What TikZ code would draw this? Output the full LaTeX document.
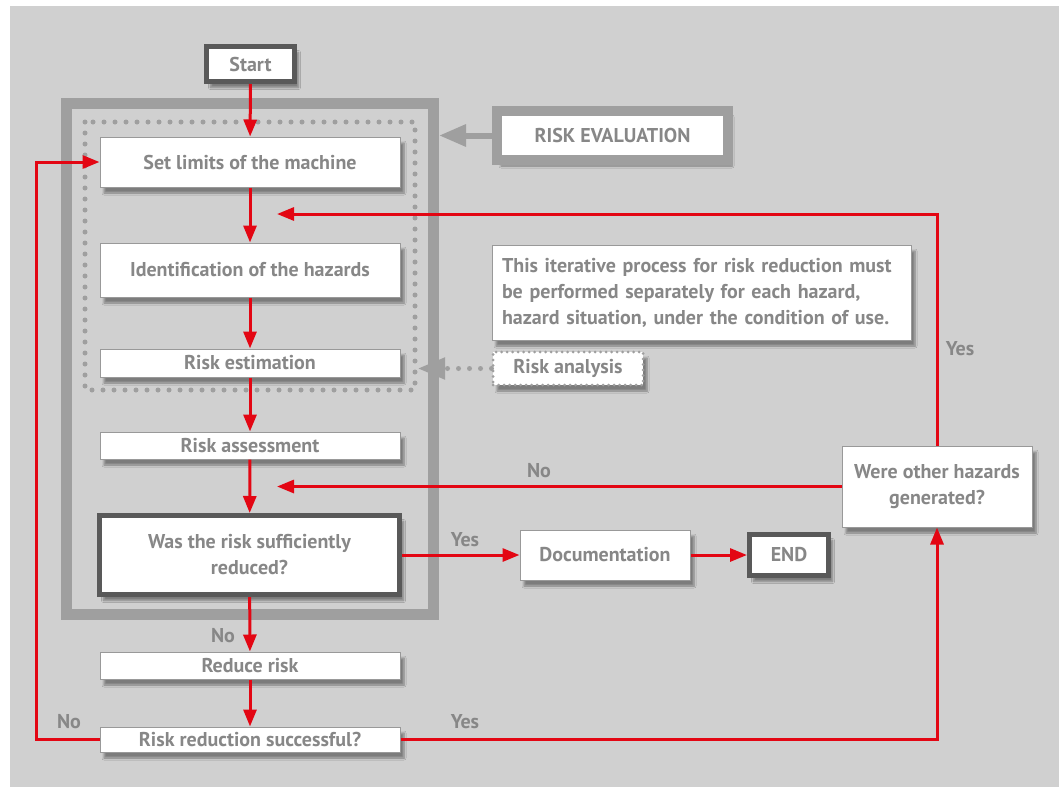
\documentclass[tikz,border=0pt]{standalone}
\usepackage{fontspec}
\setmainfont{PT Sans}
\usetikzlibrary{arrows.meta,shadows.blur}
\definecolor{bggray}{HTML}{D0D0D0}
\definecolor{framegray}{HTML}{9F9F9F}
\definecolor{darkframe}{HTML}{595959}
\definecolor{txtgray}{HTML}{878787}
\definecolor{flowred}{HTML}{E30613}
\tikzset{
	txt/.style={font=\fontsize{20}{26}\selectfont\bfseries, text=txtgray},
	shade box/.style={blur shadow={shadow xshift=4pt, shadow yshift=-6pt, shadow opacity=40, shadow blur steps=6}},
	box/.style={txt, shade box, draw=black!40, line width=1pt, fill=white, inner sep=0pt, align=center},
	darkbox/.style={box, draw=darkframe, line width=5pt},
	flow/.style={draw=flowred, line width=3pt, -{Triangle[length=17pt, width=13pt]}},
	lbl/.style={txt, inner sep=0pt},
	dotframe/.style={draw=framegray, line width=5pt, line cap=round, dash pattern=on 0pt off 11pt}
}

\begin{document}
\begin{tikzpicture}[x=1pt, y=-1pt]
			%%%%% START %%%%%
			\useasboundingbox (0,0) rectangle (1059,787);
			\fill[bggray] (10,6) rectangle (1059,787);
			
			\draw[framegray, line width=11pt] (66,103) rectangle (433,614);
			\draw[dotframe] (85,122) rectangle (415,390);
			
			\node[darkbox, minimum width=88, minimum height=35] (start) at (250.5,64) {Start};
			\node[box, minimum width=300, minimum height=50] (limits) at (250,162) {Set limits of the machine};
			\node[box, minimum width=300, minimum height=54] (hazards) at (250,270) {Identification of the hazards};
			\node[box, minimum width=300, minimum height=28] (estimate) at (250,363) {Risk estimation};
			\node[box, minimum width=300, minimum height=27] (assess) at (250,445.5) {Risk assessment};
			\node[darkbox, minimum width=300, minimum height=79] (decide) at (249.5,555) {Was the risk sufficiently\\reduced?};
			\node[box, minimum width=300, minimum height=27] (reduce) at (250,665.5) {Reduce risk};
			\node[box, minimum width=300, minimum height=25] (success) at (250,739.5) {Risk reduction successful?};
			
			\node[box, draw=framegray, line width=10pt, minimum width=231, minimum height=49] (riskeval) at (612.5,135.5) {RISK EVALUATION};
			\node[box, minimum width=419, minimum height=95, text width=399, align=left] (note) at (701.5,292.5) {This iterative process for risk reduction must\\be performed separately for each hazard,\\hazard situation, under the condition of use.};
			\node[box, draw=framegray, line width=3pt, line cap=round, dash pattern=on 0pt off 5.5pt, minimum width=150, minimum height=33] (analysis) at (568,368.5) {Risk analysis};
			
			\node[box, minimum width=170, minimum height=50] (docu) at (605,555) {Documentation};
			\node[darkbox, minimum width=79, minimum height=41] (end) at (789,555) {END};
			\node[box, minimum width=190, minimum height=81] (other) at (937,486.5) {Were other hazards\\generated?};
			
			\coordinate (evaltip) at (439,135.5);
			\coordinate (anatip) at (418,368.5);
			\coordinate (yesjoin) at (277,214);
			\coordinate (nojoin) at (277,486.5);
			
			\draw[framegray, line width=6pt, -{Triangle[length=27pt, width=21pt]}] (riskeval.west) -- (evaltip);
			\draw[framegray, line width=5pt, line cap=round, dash pattern=on 0pt off 11pt, -{Triangle[length=27pt, width=21pt]}] (analysis.west) -- (anatip);
			
			\draw[flow] (start) -- (limits);
			\draw[flow] (limits) -- (hazards);
			\draw[flow] (hazards) -- (estimate);
			\draw[flow] (estimate) -- (assess);
			\draw[flow] (assess) -- (decide);
			\draw[flow] (decide) -- (reduce);
			\draw[flow] (reduce) -- (success);
			\draw[flow] (success.west) -- ++(-63,0) |- (limits.west);
			\draw[flow] (success.east) -| (other.south);
			\draw[flow] (decide.east) -- (docu.west);
			\draw[flow] (docu) -- (end);
			\draw[flow] (other.west) -- (nojoin);
			\draw[flow] (other.north) |- (yesjoin);
			
			\node[lbl] (no1) at (223,636) {No};
			\node[lbl] (no2) at (69,722) {No};
			\node[lbl] (yes1) at (465,722) {Yes};
			\node[lbl] (yes2) at (465,540) {Yes};
			\node[lbl] (no3) at (539,471) {No};
			\node[lbl] (yes3) at (960,349) {Yes};
			
			%%%%% END %%%%%
\end{tikzpicture}
\end{document}
